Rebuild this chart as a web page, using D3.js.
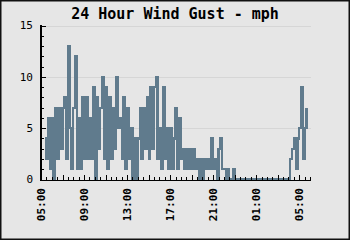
<!DOCTYPE html>
<html>
<head>
<meta charset="utf-8">
<script src="https://cdn.jsdelivr.net/npm/d3@7"></script>
<style>
  html, body { margin: 0; padding: 0; background: #e6e6e6; }
  svg { display: block; }
</style>
</head>
<body>
<svg id="chart" width="350" height="240"></svg>
<script>
// ---- data ----
const title = "24 Hour Wind Gust - mph";
const xTickLabels = ["05:00", "09:00", "13:00", "17:00", "21:00", "01:00", "05:00"];
const yTickLabels = ["0", "5", "10", "15"];
// first sample 05:20, then every 10 minutes (hours after 05:00)
const startHour = 1 / 3;
const stepHours = 1 / 6;
const gustMph = [
  4, 2, 6, 1, 6, 0,      // 05:20-06:10
  7, 2, 7, 3, 7, 8,      // 06:20-07:10
  2, 13, 5, 1, 7, 12,    // 07:20-08:10
  1, 6, 1, 8, 2, 8,      // 08:20-09:10
  2, 6, 2, 9, 0, 8,      // 09:20-10:10
  3, 7, 10, 2, 9, 1,     // 10:20-11:10
  8, 2, 7, 3, 10, 5,     // 11:20-12:10
  6, 2, 8, 1, 7, 2,      // 12:20-13:10
  5, 0, 4, 0, 4, 7,      // 13:20-14:10
  2, 7, 3, 8, 2, 9,      // 14:20-15:10
  3, 9, 10, 2, 5, 1,     // 15:20-16:10
  9, 2, 5, 1, 5, 1,      // 16:20-17:10
  4, 7, 1, 6, 2, 3,      // 17:20-18:10
  1, 3, 1, 3, 1, 3,      // 18:20-19:10
  1, 2, 0, 2, 0, 2,      // 19:20-20:10
  1, 2, 1, 4, 1, 2,      // 20:20-21:10
  0, 3, 4, 1, 1, 0,      // 21:20-22:10
  1, 0, 0, 1, 0, 0,      // 22:20-23:10
  0, 0, 0, 0, 0, 0,      // 23:20-00:10
  0, 0, 0, 0, 0, 0,      // 00:20-01:10
  0, 0, 0, 0, 0, 0,      // 01:20-02:10
  0, 0, 0, 0, 0, 0,      // 02:20-03:10
  0, 0, 0, 0, 0, 2,      // 03:20-04:10
  3, 4, 1, 4, 5, 9,      // 04:20-05:10
  2, 5, 7               // 05:20-05:40
];

// ---- layout ----
const svg = d3.select("#chart");
const W = 350, H = 240;
const padL = 41, padR = 310, padT = 25.5, padB = 179.5;
const lineColor = "#607b8d";

svg.append("rect").attr("x", 0).attr("y", 0).attr("width", W).attr("height", H)
  .attr("fill", "#e6e6e6");
svg.append("rect").attr("x", 0.75).attr("y", 0.75).attr("width", W - 1.5).attr("height", H - 1.5)
  .attr("fill", "none").attr("stroke", "#111").attr("stroke-width", 1.5);

const x = d3.scaleLinear().domain([0, 25]).range([padL, padR]);
const y = d3.scaleLinear().domain([0, 15]).range([padB, padT]);

// gridlines
svg.append("g").selectAll("line").data([5, 10, 15]).join("line")
  .attr("x1", padL).attr("x2", padR + 1)
  .attr("y1", d => Math.round(y(d)) + 0.5).attr("y2", d => Math.round(y(d)) + 0.5)
  .attr("stroke", "#d6d6d6").attr("stroke-width", 1);

// series
const pts = gustMph.map((v, i) => [startHour + i * stepHours, v]);
const line = d3.line().x(d => x(d[0])).y(d => y(d[1])).curve(d3.curveStepAfter);
svg.append("path").datum(pts)
  .attr("d", line)
  .attr("fill", "none")
  .attr("stroke", lineColor)
  .attr("stroke-width", 2.2)
  .attr("shape-rendering", "crispEdges");

// axes
const axisG = svg.append("g").attr("stroke", "#000").attr("shape-rendering", "crispEdges");
axisG.append("line").attr("x1", padL).attr("x2", padL).attr("y1", padT - 1).attr("y2", 181)
  .attr("stroke-width", 1.5);
axisG.append("line").attr("x1", padL).attr("x2", padR + 1).attr("y1", 180.5).attr("y2", 180.5)
  .attr("stroke-width", 1.5);

// y ticks (every unit, inward)
axisG.selectAll(".yt").data(d3.range(0, 16)).join("line")
  .attr("x1", padL).attr("x2", d => padL + (d % 5 === 0 ? 5 : 3))
  .attr("y1", d => Math.round(y(d)) + 0.5).attr("y2", d => Math.round(y(d)) + 0.5)
  .attr("stroke-width", 1);

// x ticks (every 30 min, taller every 2 h)
axisG.selectAll(".xt").data(d3.range(0, 50.5, 1).map(d => d / 2)).join("line")
  .attr("x1", d => Math.round(x(d)) + 0.5).attr("x2", d => Math.round(x(d)) + 0.5)
  .attr("y1", 180).attr("y2", d => (d % 2 === 0 ? 175 : 177))
  .attr("stroke-width", 1);

// y labels
svg.append("g").selectAll("text").data(yTickLabels).join("text")
  .attr("x", 33).attr("y", d => y(+d))
  .attr("dy", "0.36em")
  .attr("text-anchor", "end")
  .attr("font-family", "'DejaVu Sans Mono', monospace")
  .attr("font-size", 11)
  .attr("fill", "#000")
  .text(d => d);

// x labels (rotated)
svg.append("g").selectAll("text").data(xTickLabels).join("text")
  .attr("transform", (d, i) => `translate(${x(i * 4)},188) rotate(-90)`)
  .attr("dy", "0.36em")
  .attr("text-anchor", "end")
  .attr("font-family", "'DejaVu Sans Mono', monospace")
  .attr("font-weight", "bold")
  .attr("font-size", 11)
  .attr("fill", "#000")
  .text(d => d);

// title
svg.append("text")
  .attr("x", 175).attr("y", 19)
  .attr("text-anchor", "middle")
  .attr("font-family", "'DejaVu Sans Mono', monospace")
  .attr("font-weight", "bold")
  .attr("font-size", 15)
  .attr("fill", "#000")
  .text(title);
</script>
</body>
</html>
